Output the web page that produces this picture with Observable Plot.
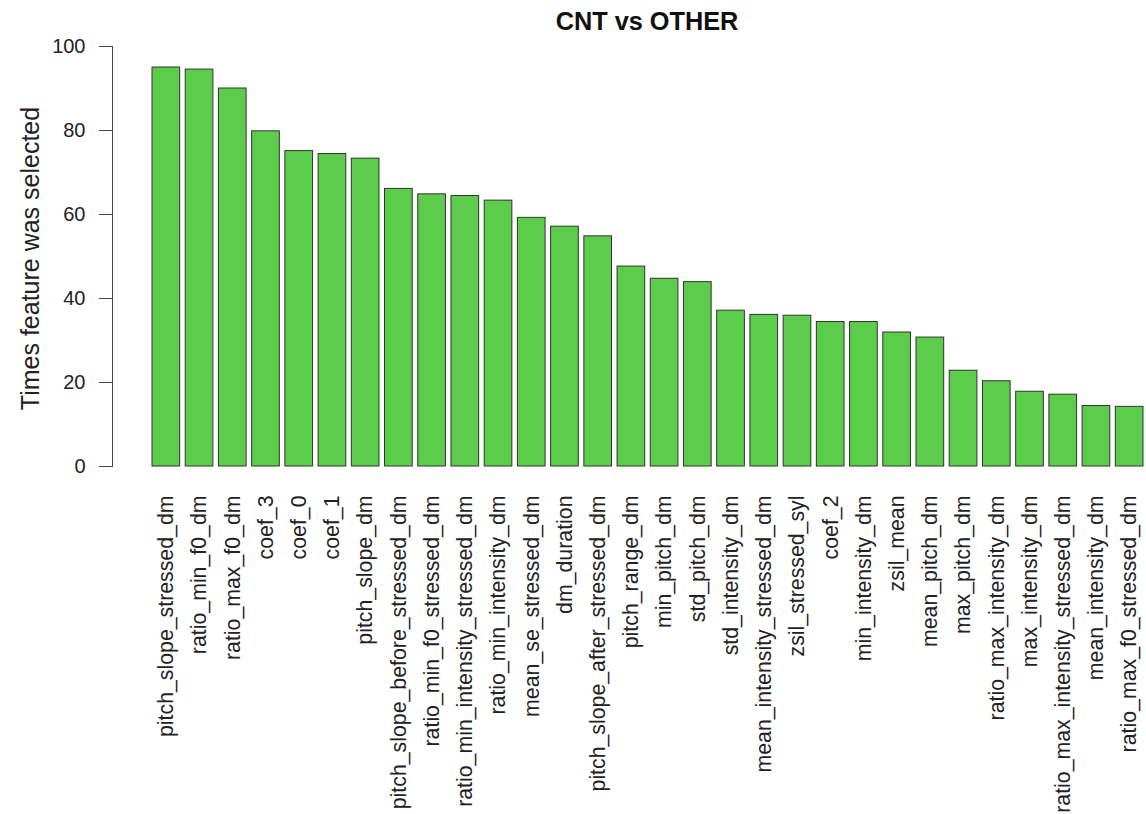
<!DOCTYPE html>
<html>
<head>
<meta charset="utf-8">
<script src="https://cdn.jsdelivr.net/npm/d3@7"></script>
<script src="https://cdn.jsdelivr.net/npm/@observablehq/plot@0.6"></script>
<style>
  html, body { margin: 0; padding: 0; background: #fff; }
  #chart { width: 1146px; height: 814px; }
</style>
</head>
<body>
<div id="chart"></div>
<script>
const titleText = "CNT vs OTHER";
const yLabel = "Times feature was selected";

const features = [
  "pitch_slope_stressed_dm", "ratio_min_f0_dm", "ratio_max_f0_dm", "coef_3", "coef_0",
  "coef_1", "pitch_slope_dm", "pitch_slope_before_stressed_dm", "ratio_min_f0_stressed_dm",
  "ratio_min_intensity_stressed_dm", "ratio_min_intensity_dm", "mean_se_stressed_dm",
  "dm_duration", "pitch_slope_after_stressed_dm", "pitch_range_dm", "min_pitch_dm",
  "std_pitch_dm", "std_intensity_dm", "mean_intensity_stressed_dm", "zsil_stressed_syl",
  "coef_2", "min_intensity_dm", "zsil_mean", "mean_pitch_dm", "max_pitch_dm",
  "ratio_max_intensity_dm", "max_intensity_dm", "ratio_max_intensity_stressed_dm",
  "mean_intensity_dm", "ratio_max_f0_stressed_dm"
];

const counts = [
  95.0, 94.5, 90.0, 79.8, 75.1,
  74.4, 73.3, 66.1, 64.8,
  64.4, 63.3, 59.2,
  57.1, 54.8, 47.6, 44.7,
  43.9, 37.1, 36.1, 35.9,
  34.4, 34.4, 31.9, 30.7, 22.8,
  20.3, 17.8, 17.1,
  14.4, 14.2
];

const yTicks = [0, 20, 40, 60, 80, 100];

const data = features.map((f, i) => ({feature: f, count: counts[i]}));

const font = "'Liberation Sans', Arial, Helvetica, sans-serif";

const chart = Plot.plot({
  width: 1146,
  height: 814,
  marginLeft: 112,
  marginRight: 3,
  marginTop: 46,
  marginBottom: 348,
  style: {fontFamily: font, background: "#fff", color: "#222"},
  x: {type: "band", domain: features, paddingInner: 0.1667, paddingOuter: 0, insetLeft: 40, round: false, axis: null},
  y: {domain: [0, 100], axis: null},
  marks: [
    Plot.barY(data, {x: "feature", y: "count", fill: "#5BCD4A", stroke: "#333", strokeWidth: 1}),
    Plot.axisY({ticks: yTicks, tickSize: 13, tickPadding: 14, fontSize: 20, label: null, stroke: "#444"}),
    Plot.frame({anchor: "left", stroke: "#444"}),
    Plot.axisX({tickRotate: -90, tickSize: 0, tickPadding: 29, fontSize: 21.3, label: null}),
    Plot.text([titleText], {frameAnchor: "top", lineAnchor: "middle", dy: -25, dx: 19, fontSize: 25.3, fontWeight: "bold", fill: "#111"}),
    Plot.text([yLabel], {frameAnchor: "left", textAnchor: "middle", lineAnchor: "middle", rotate: -90, dx: -82, dy: 2, fontSize: 25, fill: "#222"})
  ]
});

document.getElementById("chart").appendChild(chart);
</script>
</body>
</html>
